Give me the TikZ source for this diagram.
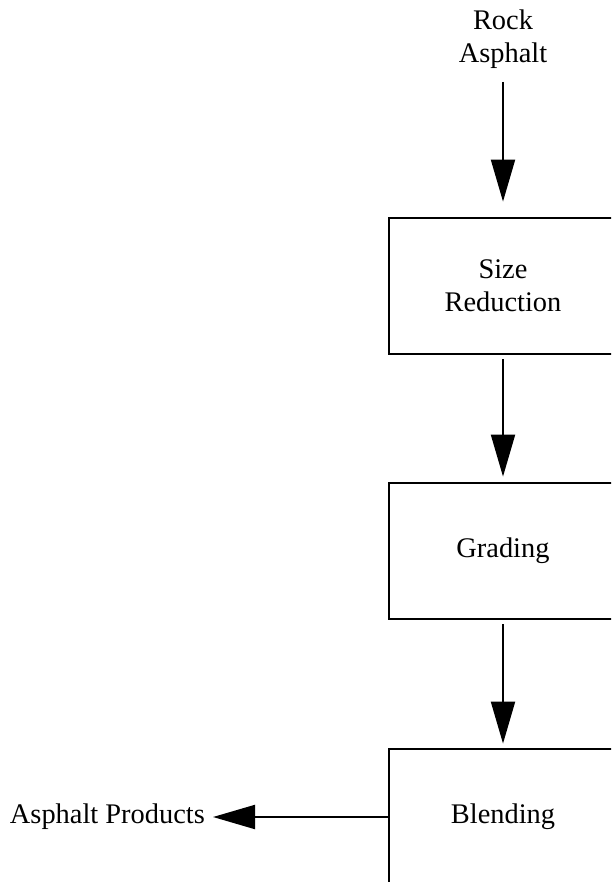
\documentclass[tikz,border=0pt]{standalone}
\usepackage{fontspec}
\setmainfont{Liberation Serif}
\usetikzlibrary{arrows.meta}
\begin{document}
\begin{tikzpicture}[x=1pt,y=-1pt,
  every node/.style={font=\fontsize{28.4}{33}\selectfont},
  stagebox/.style={draw,line width=2.8pt,minimum width=228pt,minimum height=136pt,align=center,inner sep=0pt},
  flow/.style={line width=2pt,-{Triangle[length=42pt,width=24pt]}}]
  \useasboundingbox (0,0) rectangle (611,882);
  \clip (0,0) rectangle (611,882);
  % process stages
  \node[stagebox] (size) at (503,286) {Size\\Reduction};
  \node[stagebox] (grade) at (503,551) {Grading};
  \node[stagebox] (blend) at (503,817) {Blending};
  % feed and product labels
  \node[align=center,inner sep=0pt,anchor=south] (feed) at (503,69) {Rock\\Asphalt};
  \node[inner sep=0pt,anchor=east] (prod) at (205,817) {Asphalt Products};
  % flow arrows
  \draw[flow,shorten <=13pt,shorten >=15pt] (feed.south) -- (size.north);
  \draw[flow,shorten <=4pt,shorten >=5pt] (size.south) -- (grade.north);
  \draw[flow,shorten <=4pt,shorten >=4pt] (grade.south) -- (blend.north);
  \draw[flow,shorten >=8pt] (blend.west) -- (prod.east);
\end{tikzpicture}
\end{document}
